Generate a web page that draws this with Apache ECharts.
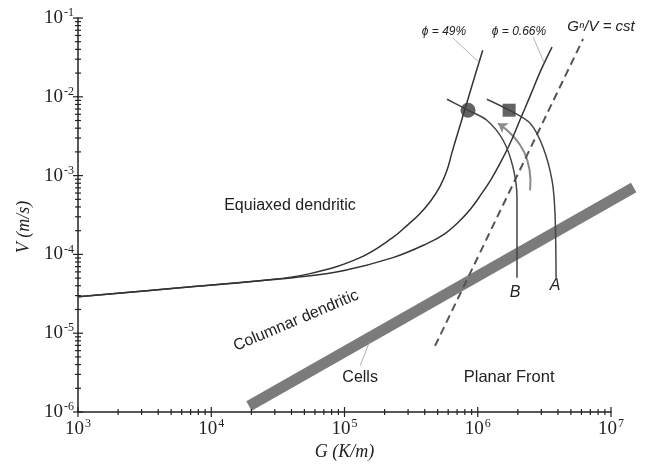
<!DOCTYPE html>
<html><head><meta charset="utf-8">
<script src="https://cdn.jsdelivr.net/npm/echarts@6/dist/echarts.min.js"></script>
<style>html,body{margin:0;background:#fff}#c{width:650px;height:464px}</style>
</head><body><div id="c"></div>
<script>
// ---- axis ticks ----
const xMajorTicks = [1e3, 1e4, 1e5, 1e6, 1e7];
const yMajorTicks = [1e-6, 1e-5, 1e-4, 1e-3, 1e-2, 1e-1];
const minorMultipliers = [2, 3, 4, 5, 6, 7, 8, 9];

// ---- curves (G, V) ----
const curvePhi49 = [[1e3,2.90e-5],[5.82e3,3.78e-5],[2.32e4,4.64e-5],[5.51e4,5.7e-5],[1.31e5,9.1e-5],
  [2.31e5,1.64e-4],[3.00e5,2.39e-4],[3.69e5,3.3e-4],[4.46e5,4.83e-4],[5.21e5,7.3e-4],[5.87e5,1.16e-3],
  [6.41e5,1.97e-3],[7.11e5,3.55e-3],[7.89e5,6.37e-3],[9.21e5,1.53e-2],[1.09e6,3.9e-2]];
const curvePhi066 = [[1e3,2.90e-5],[5.82e3,3.78e-5],[2.32e4,4.64e-5],[4.10e4,5.07e-5],[9.75e4,6.22e-5],
  [2.31e5,9.1e-5],[4.16e5,1.37e-4],[5.68e5,1.84e-4],[7.36e5,2.69e-4],[8.89e5,3.83e-4],[1.06e6,5.77e-4],
  [1.26e6,8.95e-4],[1.47e6,1.43e-3],[1.75e6,2.57e-3],[2.07e6,5.04e-3],[2.47e6,1.02e-2],[2.98e6,2.18e-2],
  [3.61e6,4.28e-2]];
const dashedGnV = [[4.78e5,6.9e-6],[6.17e6,5.41e-2]];
const cellsBand = [[1.92e4,1.19e-6,1.48e7,7.08e-4]];
const pathB = [[5.87e5,9.3e-3],[8.45e5,6.76e-3],[1.17e6,5.04e-3],[1.55e6,2.81e-3],[1.84e6,1.27e-3],
  [1.97e6,5.28e-4],[1.97e6,1.64e-4],[1.97e6,5.07e-5]];
const pathA = [[1.17e6,9.3e-3],[1.72e6,6.76e-3],[2.47e6,4.61e-3],[3.09e6,2.29e-3],[3.61e6,8.7e-4],
  [3.80e6,3.3e-4],[3.87e6,5.07e-5]];
const arrowTailHead = [[2.47e6,6.5e-4],[1.42e6,4.61e-3]];
const circlePoint = [[8.45e5,6.76e-3]];
const squarePoint = [[1.72e6,6.76e-3]];
const leaderLines = [
  [[6.52e5,5.57e-2],[1.02e6,2.75e-2]],
  [[2.60e6,5.73e-2],[3.14e6,2.75e-2]],
  [[1.31e5,3.85e-6],[1.55e5,8.0e-6]]
];
const annotationTexts = ['Equiaxed dendritic','Columnar dendritic','Cells','Planar Front','B','A','\u03d5 = 49%','\u03d5 = 0.66%','G\u207f/V = cst'];
const annotationAt = [[3.90e4,4.18e-4],[4.33e4,1.44e-5],[1.31e5,2.71e-6],[1.72e6,2.71e-6],[1.91e6,3.27e-5],
  [3.80e6,4.01e-5],[5.58e5,6.64e-2],[2.04e6,6.64e-2],[8.41e6,7.67e-2]];

const annotationStyle = [
  {font:'16px "Liberation Sans"', rot:0},
  {font:'16px "Liberation Sans"', rot:23},
  {font:'16px "Liberation Sans"', rot:0},
  {font:'16.5px "Liberation Sans"', rot:0},
  {font:'italic 16px "Liberation Sans"', rot:0},
  {font:'italic 16px "Liberation Sans"', rot:0},
  {font:'italic 12px "Liberation Sans"', rot:0},
  {font:'italic 12px "Liberation Sans"', rot:0},
  {font:'italic 15px "Liberation Sans"', rot:0}
];

const xMinorTicks = [], yMinorTicks = [];
for (let i = 0; i < xMajorTicks.length - 1; i++) minorMultipliers.forEach(m => xMinorTicks.push(xMajorTicks[i] * m));
for (let i = 0; i < yMajorTicks.length - 1; i++) minorMultipliers.forEach(m => yMinorTicks.push(yMajorTicks[i] * m));

function tickSeries(vals, axis, len) {
  return {
    type: 'custom', coordinateSystem: 'cartesian2d', clip: false, silent: true, z: 6,
    data: vals.map(v => axis === 'x' ? [v, 1e-6] : [1e3, v]),
    renderItem: (p, api) => {
      const pt = api.coord([api.value(0), api.value(1)]);
      const shape = axis === 'x'
        ? {x1: pt[0], y1: pt[1] - len, x2: pt[0], y2: pt[1] + len}
        : {x1: pt[0] - len, y1: pt[1], x2: pt[0] + len, y2: pt[1]};
      return {type: 'line', shape, style: {stroke: '#222', lineWidth: 1.2}};
    }
  };
}

const expFmt = v => '{b|10}{s|' + Math.round(Math.log10(v)) + '}';
const richLabel = {
  b: {fontFamily: '"Liberation Serif"', fontSize: 19, color: '#222', lineHeight: 22},
  s: {fontFamily: '"Liberation Serif"', fontSize: 12, color: '#222', lineHeight: 12, verticalAlign: 'top', padding: [0,0,0,1]}
};

const thin = c => ({type: 'line', showSymbol: false, symbol: 'none', silent: true, smooth: 0.3,
  lineStyle: {color: c || '#333', width: 1.5}});

const option = {
  animation: false,
  backgroundColor: '#fff',
  grid: {left: 78, right: 39, top: 18, bottom: 52, containLabel: false, outerBoundsMode: 'none'},
  xAxis: {
    type: 'log', logBase: 10, min: 1e3, max: 1e7, interval: 1,
    name: 'G (K/m)', nameLocation: 'middle', nameGap: 31,
    nameTextStyle: {fontFamily: '"Liberation Serif"', fontStyle: 'italic', fontSize: 18, color: '#222'},
    axisLine: {lineStyle: {color: '#222', width: 1.5}},
    axisTick: {show: false}, splitLine: {show: false},
    axisLabel: {formatter: expFmt, rich: richLabel, margin: 6}
  },
  yAxis: {
    type: 'log', logBase: 10, min: 1e-6, max: 1e-1, interval: 1,
    name: 'V (m/s)', nameLocation: 'middle', nameGap: 42,
    nameTextStyle: {fontFamily: '"Liberation Serif"', fontStyle: 'italic', fontSize: 18, color: '#222', padding: [0, 24, 0, 0]},
    axisLine: {lineStyle: {color: '#222', width: 1.5}},
    axisTick: {show: false}, splitLine: {show: false},
    axisLabel: {formatter: expFmt, rich: richLabel, margin: 4}
  },
  series: [
    {
      type: 'custom', coordinateSystem: 'cartesian2d', clip: false, silent: true, z: 2,
      encode: {x: [0, 2], y: [1, 3]},
      data: cellsBand,
      renderItem: (p, api) => {
        const a = api.coord([api.value(0), api.value(1)]);
        const b = api.coord([api.value(2), api.value(3)]);
        return {type: 'line', shape: {x1: a[0], y1: a[1], x2: b[0], y2: b[1]},
          style: {stroke: '#7b7b7b', lineWidth: 11, lineCap: 'butt'}};
      }
    },
    Object.assign({data: dashedGnV, smooth: false}, thin(), {lineStyle: {color: '#555', width: 2, type: [8, 5]}}),
    Object.assign({data: curvePhi49}, thin('#333'), {smooth: 0.4}),
    Object.assign({data: curvePhi066}, thin('#333'), {smooth: 0.4}),
    Object.assign({data: pathB}, thin('#444')),
    Object.assign({data: pathA}, thin('#444')),
    ...leaderLines.map(l => Object.assign({data: l, smooth: false}, thin(), {lineStyle: {color: '#999', width: 0.8}})),
    {
      type: 'lines', coordinateSystem: 'cartesian2d', silent: true, z: 3,
      symbol: ['none', 'arrow'], symbolSize: 9,
      lineStyle: {color: '#8c8c8c', width: 2, curveness: -0.3, opacity: 1},
      data: [{coords: arrowTailHead}]
    },
    {type: 'scatter', symbol: 'circle', symbolSize: 15, data: circlePoint, itemStyle: {color: '#3c3c3c'}, silent: true, z: 4},
    {type: 'scatter', symbol: 'rect', symbolSize: 13, data: squarePoint, itemStyle: {color: '#3c3c3c'}, silent: true, z: 4},
    {
      type: 'custom', coordinateSystem: 'cartesian2d', clip: false, silent: true, z: 7,
      data: annotationAt.map((a, i) => [a[0], a[1], i]),
      renderItem: (p, api) => {
        const i = api.value(2);
        const pt = api.coord([api.value(0), api.value(1)]);
        const st = annotationStyle[i];
        return {type: 'text', x: pt[0], y: pt[1], rotation: st.rot * Math.PI / 180,
          style: {text: annotationTexts[i], font: st.font, fill: '#222', align: 'center', verticalAlign: 'middle'}};
      }
    },
    tickSeries(xMajorTicks, 'x', 5),
    tickSeries(xMinorTicks, 'x', 3),
    tickSeries(yMajorTicks, 'y', 5),
    tickSeries(yMinorTicks, 'y', 3)
  ]
};
const chart = echarts.init(document.getElementById('c'), null, {renderer: 'canvas'});
chart.setOption(option);
</script></body></html>
